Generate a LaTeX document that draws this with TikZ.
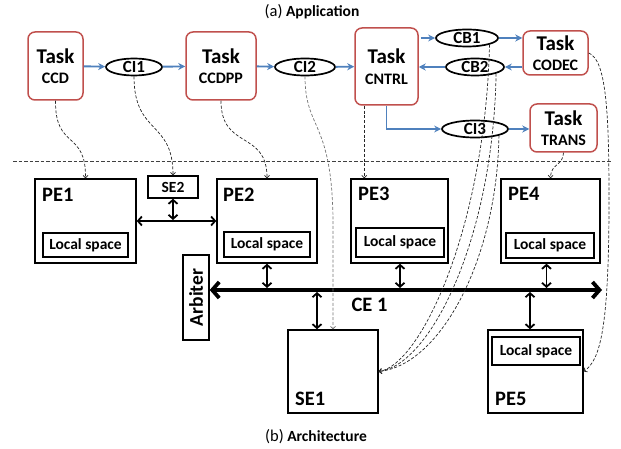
\documentclass[tikz,border=0pt]{standalone}
\usepackage{fontspec}
\setmainfont{Carlito}
\usetikzlibrary{arrows.meta,shapes.geometric,calc}
\definecolor{taskred}{RGB}{192,80,77}
\definecolor{flowblue}{RGB}{79,129,189}
\newcommand{\subname}[1]{{\fontsize{16}{16}\selectfont #1}}
\begin{document}
\begin{tikzpicture}[x=1pt, y=-1pt,
  task/.style={draw=taskred, line width=1.5pt, rounded corners=7pt, inner sep=0pt, align=center, font=\fontsize{21}{20.5}\selectfont\bfseries},
  chan/.style={draw, ellipse, line width=1.7pt, inner sep=0pt, minimum height=17pt, font=\fontsize{17}{17}\selectfont\bfseries},
  unit/.style={draw, line width=1.4pt, inner sep=0pt},
  local/.style={draw, line width=1.4pt, inner sep=0pt, font=\fontsize{15.5}{15.5}\selectfont\bfseries},
  lbl/.style={anchor=base west, inner sep=0pt, font=\fontsize{20.5}{20.5}\selectfont\bfseries},
  flow/.style={-{Stealth[length=7pt,width=7pt]}, line width=1.9pt, flowblue},
  link/.style={{Straight Barb[length=4pt,width=9pt]}-{Straight Barb[length=4pt,width=9pt]}, line width=1.8pt},
  bus/.style={{Straight Barb[length=7pt,width=16pt]}-{Straight Barb[length=7pt,width=16pt]}, line width=3.8pt},
  map/.style={dash pattern=on 3pt off 1.8pt, line width=0.7pt, black!85, -{Straight Barb[length=2.5pt,width=5pt]}}]
  \useasboundingbox (0,0) rectangle (621,449);

  % (a) application
  \node[font=\fontsize{15.5}{16}\selectfont, anchor=base] (apptitle) at (312,17) {{\fontsize{16.5}{17}\selectfont(a)} \textbf{Application}};
  \node[task, minimum width=55pt, minimum height=68pt] (ccd) at (55.5,66) {Task\\\subname{CCD}};
  \node[chan, minimum width=56pt] (ci1) at (134,67) {CI1};
  \node[task, minimum width=70pt, minimum height=68pt] (ccdpp) at (221,66) {Task\\\subname{CCDPP}};
  \node[chan, minimum width=60pt] (ci2) at (305,67) {CI2};
  \node[task, minimum width=63pt, minimum height=77pt] (cntrl) at (386.5,66.5) {Task\\\subname{CNTRL}};
  \node[chan, minimum width=62pt] (cb1) at (467,38) {CB1};
  \node[chan, minimum width=58pt] (cb2) at (475,67) {CB2};
  \node[task, minimum width=65pt, minimum height=44pt] (codec) at (555.5,53) {Task\\\subname{CODEC}};
  \node[chan, minimum width=66pt] (ci3) at (475,129) {CI3};
  \node[task, minimum width=67pt, minimum height=48pt] (trans) at (563.5,128) {Task\\\subname{TRANS}};

  \draw[flow] (ccd) -- (ci1);
  \draw[flow] (ci1) -- (ccdpp);
  \draw[flow] (ccdpp) -- (ci2);
  \draw[flow] (ci2) -- (cntrl);
  \draw[flow] ([xshift=2pt]cntrl.east |- cb1.west) -- (cb1.west);
  \draw[flow] (cb1.east) -- (codec.west |- cb1.east);
  \draw[flow] (codec.west |- cb2.east) -- (cb2.east);
  \draw[flow] (cb2.west) -- (cntrl.east |- cb2.west);
  \draw[flow] (cntrl.south) |- (ci3.west);
  \draw[flow] (ci3.east) -- (trans.west |- ci3.east);

  \draw[dash pattern=on 3.5pt off 2pt, line width=0.7pt, black!75] (13,161) -- (612,161);

  % (b) architecture
  \node[unit, minimum width=101pt, minimum height=84pt] (pe1) at (85.5,221) {};
  \node[local, minimum width=85pt, minimum height=24pt] (ls1) at (85.5,245) {Local space};
  \node[lbl] (pe1lbl) at (42,202) {PE1};
  \node[unit, minimum width=50pt, minimum height=22pt, font=\fontsize{15.5}{15.5}\selectfont\bfseries] (se2) at (173,187) {SE2};
  \node[unit, minimum width=100pt, minimum height=84pt] (pe2) at (267,221) {};
  \node[local, minimum width=86pt, minimum height=25pt] (ls2) at (267,244.5) {Local space};
  \node[lbl] (pe2lbl) at (223,202) {PE2};
  \node[unit, minimum width=97pt, minimum height=84pt] (pe3) at (399.5,221) {};
  \node[local, minimum width=88pt, minimum height=29pt] (ls3) at (400,242.5) {Local space};
  \node[lbl] (pe3lbl) at (358,201) {PE3};
  \node[unit, minimum width=99pt, minimum height=84pt] (pe4) at (550.5,221) {};
  \node[local, minimum width=88pt, minimum height=25pt] (ls4) at (550,245.5) {Local space};
  \node[lbl] (pe4lbl) at (508,201) {PE4};
  \node[unit, minimum width=26pt, minimum height=85pt] (arb) at (196,297.5) {};
  \node[rotate=90, inner sep=0pt, font=\fontsize{19.5}{19.5}\selectfont\bfseries] (arbtxt) at (arb) {Arbiter};
  \node[unit, minimum width=90pt, minimum height=83pt] (se1) at (333,371.5) {};
  \node[lbl] (se1lbl) at (295,405) {SE1};
  \node[unit, minimum width=95pt, minimum height=83pt] (pe5) at (535.5,371.5) {};
  \node[local, minimum width=88pt, minimum height=28pt] (ls5) at (536,351) {Local space};
  \node[lbl] (pe5lbl) at (495,405) {PE5};
  \node[font=\fontsize{15.5}{16}\selectfont, anchor=base] (archtitle) at (316,441) {{\fontsize{16.5}{17}\selectfont(b)} \textbf{Architecture}};

  % communication element
  \coordinate (busR) at (602,290);
  \coordinate (busT) at (0,288);
  \coordinate (busB) at (0,292);
  \draw[bus] (arb.east |- busR) -- (busR);
  \node[lbl, anchor=base] (ce1) at (369.5,311) {CE 1};
  \draw[link] (pe1.east) -- (pe2.west);
  \draw[link] (se2.south) -- ([yshift=1pt]se2.south |- pe1.east);
  \draw[link] (pe2.south) -- (pe2.south |- busT);
  \draw[link] (pe3.south -| ls3.south) -- (ls3.south |- busT);
  \draw[link] ([xshift=-4pt]pe4.south) -- ([xshift=-4pt]pe4.south |- busT);
  \draw[link] ([xshift=-16pt]se1.north) -- ([xshift=-16pt]se1.north |- busB);
  \draw[link] ([xshift=-5.5pt]pe5.north) -- ([xshift=-5.5pt]pe5.north |- busB);

  % mapping of tasks and channels
  \draw[map] (ccd.south) .. controls (55,150) and (86,130) .. (pe1.north);
  \draw[map] (ci1.south) .. controls (134,135) and (173,120) .. (se2.north);
  \draw[map] (ccdpp.south) .. controls (221,150) and (267,130) .. (pe2.north);
  \draw[map, black!55] (ci2.south) .. controls (305,130) and (332,120) .. (333,220) -- (se1.north);
  \draw[map] ([xshift=10pt]cntrl.south west) -- ([xshift=10pt]cntrl.south west |- pe3.north);
  \draw[map] (trans.south) .. controls (563,166) and (551,163) .. (pe4.north);
  \draw[map] (codec.east) .. controls (606,60) and (609,110) .. (609,200) .. controls (609,330) and (600,360) .. (pe5.east);
  \draw[map] (cb1.south east) .. controls (485,230) and (420,365) .. (se1.east);
  \draw[map] (cb2.south east) .. controls (493,240) and (430,365) .. (se1.east);
  \draw[map] (ci3.south east) .. controls (497,260) and (440,365) .. (se1.east);
\end{tikzpicture}
\end{document}
